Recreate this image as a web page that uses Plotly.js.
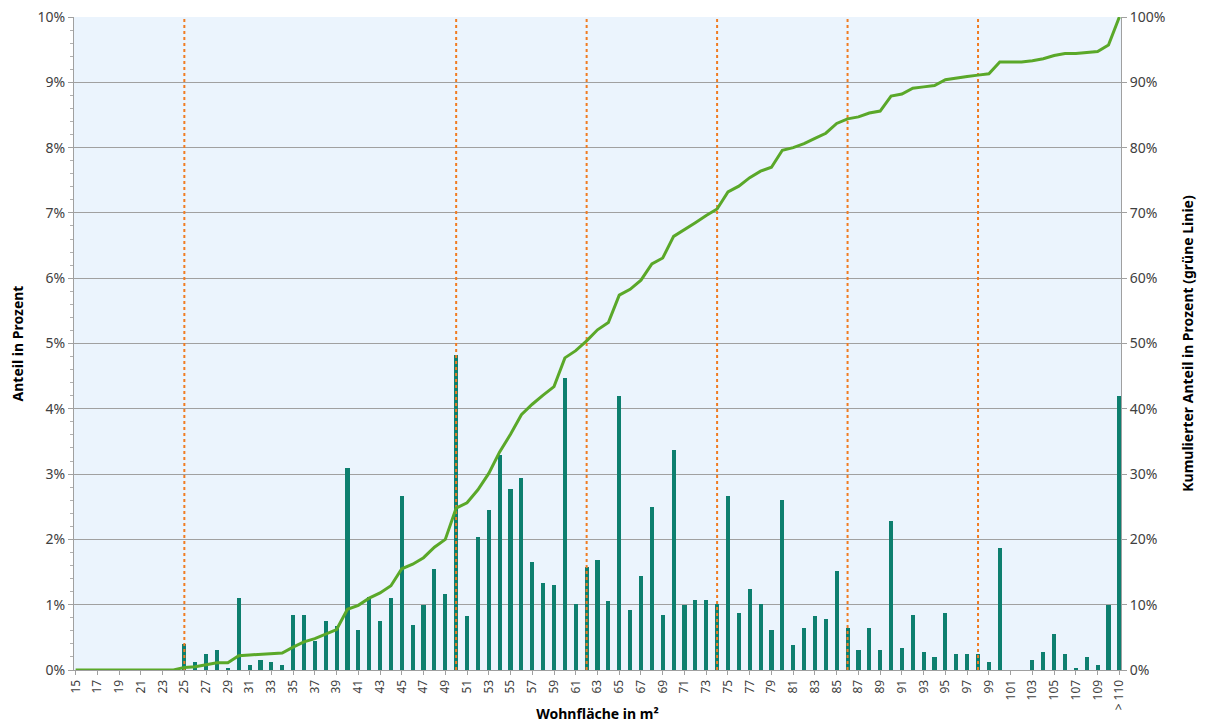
<!DOCTYPE html>
<html>
<head>
<meta charset="utf-8">
<script src="https://cdn.plot.ly/plotly-3.0.1.min.js"></script>
<style>html,body{margin:0;padding:0;background:#fff;}#chart{width:1208px;height:723px;}</style>
</head>
<body>
<div id="chart"></div>
<script>
// Categories: living space in m² (15 .. 110, then "> 110")
const categories = ['15','16','17','18','19','20','21','22','23','24','25','26','27','28','29','30','31','32','33','34','35','36','37','38','39','40','41','42','43','44','45','46','47','48','49','50','51','52','53','54','55','56','57','58','59','60','61','62','63','64','65','66','67','68','69','70','71','72','73','74','75','76','77','78','79','80','81','82','83','84','85','86','87','88','89','90','91','92','93','94','95','96','97','98','99','100','101','102','103','104','105','106','107','108','109','110','> 110'];

// Share in percent (bars, left axis)
const shareValues = [0,0,0,0,0,0,0,0,0,0,
  0.40,0.13,0.24,0.30,0.03,1.11,0.07,0.16,0.13,0.07,
  0.85,0.85,0.44,0.75,0.68,3.09,0.61,1.12,0.75,1.10,
  2.67,0.69,0.99,1.55,1.17,4.82,0.82,2.03,2.45,3.29,
  2.77,2.94,1.66,1.34,1.30,4.47,1.01,1.57,1.69,1.05,
  4.20,0.92,1.44,2.49,0.84,3.37,0.99,1.07,1.07,1.01,
  2.67,0.88,1.24,1.01,0.61,2.61,0.38,0.64,0.82,0.78,
  1.52,0.64,0.30,0.64,0.30,2.28,0.34,0.84,0.27,0.20,
  0.88,0.24,0.24,0.24,0.13,1.87,0,0,0.16,0.27,
  0.55,0.24,0.03,0.20,0.07,0.99,4.19];

// Cumulative share in percent (green line, right axis)
const cumulativeValues = [0,0,0,0,0,0,0,0,0,0,
  0.4,0.5,0.8,1.1,1.1,2.2,2.3,2.4,2.6,2.6,
  3.5,4.3,4.8,5.5,6.2,9.3,9.9,11.0,11.8,12.9,
  15.5,16.2,17.2,18.8,20.0,24.8,25.6,27.6,30.1,33.4,
  36.1,39.1,40.7,42.1,43.4,47.8,48.9,50.4,52.1,53.2,
  57.4,58.3,59.7,62.2,63.1,66.4,67.4,68.5,69.6,70.6,
  73.2,74.1,75.4,76.4,77.0,79.6,80.0,80.6,81.4,82.2,
  83.7,84.4,84.7,85.3,85.6,87.9,88.2,89.1,89.3,89.5,
  90.4,90.7,90.9,91.1,91.3,93.1,93.1,93.1,93.3,93.6,
  94.1,94.4,94.4,94.6,94.7,95.7,100];

// Categories marked with orange dotted lines
const markerCategories = ['25','50','62','74','86','98'];

// Tick labels: every second category
const tickCategories = categories.filter((c, i) => i % 2 === 0);

const leftTickVals = [0,1,2,3,4,5,6,7,8,9,10];
const leftTickText = leftTickVals.map(v => v + '%');
const rightTickVals = [0,10,20,30,40,50,60,70,80,90,100];
const rightTickText = rightTickVals.map(v => v + '%');

const traces = [];
traces.push({
  type: 'bar', x: categories, y: shareValues, yaxis: 'y',
  marker: {color: '#0D7F6F', line: {width: 0}},
  width: 0.38, hoverinfo: 'x+y', showlegend: false
});
markerCategories.forEach(c => {
  traces.push({
    type: 'scatter', mode: 'lines', x: [c, c], y: [0, 10], yaxis: 'y',
    line: {color: '#F07C22', width: 2, dash: 'dot'},
    hoverinfo: 'skip', showlegend: false
  });
});
traces.push({
  type: 'scatter', mode: 'lines', x: categories, y: cumulativeValues, yaxis: 'y2',
  line: {color: '#5AA829', width: 3}, showlegend: false
});

const tickFont = {family: 'Noto Sans, DejaVu Sans, sans-serif', size: 14, color: '#404040'};
const titleFont = {family: 'Noto Sans, DejaVu Sans, sans-serif', size: 14, color: '#000', weight: 'bold'};

const layout = {
  width: 1208, height: 723,
  margin: {l: 74, r: 87, t: 17, b: 53},
  paper_bgcolor: '#ffffff',
  plot_bgcolor: '#EBF4FD',
  showlegend: false,
  bargap: 0,
  xaxis: {
    type: 'category',
    categoryorder: 'array', categoryarray: categories,
    range: [-0.15, categories.length - 0.85],
    tickmode: 'array', tickvals: tickCategories, ticktext: tickCategories,
    tickangle: -90,
    tickfont: {family: 'Noto Sans, DejaVu Sans, sans-serif', size: 12, color: '#404040'},
    ticks: 'outside', ticklen: 4, tickcolor: '#a0a0a0',
    showgrid: false, showline: true, linecolor: '#a0a0a0', linewidth: 1,
    zeroline: false,
    title: {text: 'Wohnfläche in m²', font: titleFont, standoff: 4}
  },
  yaxis: {
    range: [0, 10],
    tickmode: 'array', tickvals: leftTickVals, ticktext: leftTickText,
    tickfont: tickFont,
    ticks: 'outside', ticklen: 5, tickcolor: '#a0a0a0',
    minor: {dtick: 0.2, ticks: 'outside', ticklen: 3, tickcolor: '#b0b0b0', showgrid: false},
    showgrid: true, gridcolor: '#a0a0a0', gridwidth: 1,
    showline: true, linecolor: '#a0a0a0', linewidth: 1,
    zeroline: false,
    title: {text: 'Anteil in Prozent', font: titleFont, standoff: 10}
  },
  yaxis2: {
    overlaying: 'y', side: 'right',
    range: [0, 100],
    tickmode: 'array', tickvals: rightTickVals, ticktext: rightTickText,
    tickfont: tickFont,
    ticks: 'outside', ticklen: 5, tickcolor: '#a0a0a0',
    showgrid: false, showline: true, linecolor: '#a0a0a0', linewidth: 1,
    zeroline: false,
    title: {text: 'Kumulierter Anteil in Prozent (grüne Linie)', font: titleFont, standoff: 18}
  }
};

Plotly.newPlot('chart', traces, layout, {displayModeBar: false, staticPlot: true});
</script>
</body>
</html>
